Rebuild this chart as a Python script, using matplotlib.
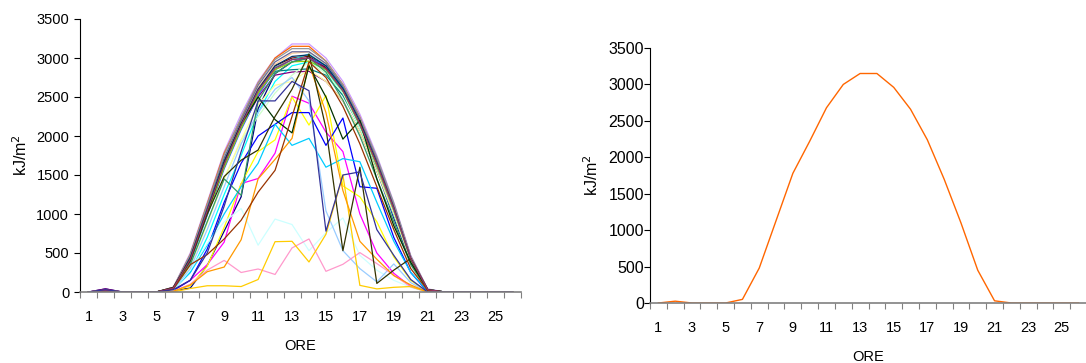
import matplotlib
matplotlib.use("Agg")
import matplotlib.pyplot as plt
from matplotlib.ticker import FixedLocator

plt.rcParams['font.family'] = ['Liberation Sans', 'DejaVu Sans']

# hours of the day (category axis)
hours = list(range(1, 27))
hour_labels = [str(h) if h % 2 == 1 else '' for h in hours]

# hourly radiation, kJ/m2, one list per day of the month
d01 = [0, 40, 0, 0, 0, 20, 50, 340, 780, 1220, 2350, 2800, 2950, 3000, 2870, 2560, 2120, 1560, 950, 380, 20, 0, 0, 0, 0, 0]
d02 = [0, 10, 0, 0, 0, 20, 150, 350, 640, 1390, 1455, 1780, 2510, 2420, 2050, 1800, 1000, 500, 240, 70, 0, 0, 0, 0, 0, 0]
d03 = [0, 10, 0, 0, 0, 10, 80, 330, 830, 1390, 1800, 1950, 2500, 2140, 2520, 1360, 1220, 900, 450, 150, 0, 0, 0, 0, 0, 0]
d04 = [0, 20, 0, 0, 0, 40, 250, 700, 1250, 1750, 2300, 2700, 2900, 2950, 2850, 2550, 2100, 1550, 980, 400, 30, 0, 0, 0, 0, 0]
d05 = [0, 40, 0, 0, 0, 60, 420, 1000, 1600, 2100, 2500, 2780, 2820, 2830, 2700, 2450, 2050, 1550, 1000, 400, 30, 0, 0, 0, 0, 0]
d06 = [0, 20, 0, 0, 0, 50, 430, 1050, 1650, 2150, 2600, 2900, 3000, 3020, 2880, 2600, 2180, 1650, 1080, 430, 30, 0, 0, 0, 0, 0]
d07 = [0, 20, 0, 0, 0, 50, 400, 1000, 1600, 2100, 2550, 2830, 2850, 2860, 2780, 2520, 2120, 1600, 1050, 420, 30, 0, 0, 0, 0, 0]
d08 = [0, 10, 0, 0, 0, 20, 150, 550, 1150, 1650, 2000, 2150, 2300, 2300, 1880, 2230, 1350, 1330, 700, 250, 0, 0, 0, 0, 0, 0]
d09 = [0, 10, 0, 0, 0, 30, 250, 600, 1000, 1350, 1650, 2150, 1880, 1970, 1600, 1710, 1670, 1150, 650, 250, 10, 0, 0, 0, 0, 0]
d10 = [0, 0, 0, 0, 0, 20, 280, 620, 900, 1070, 600, 935, 865, 530, 760, 950, 470, 280, 150, 60, 0, 0, 0, 0, 0, 0]
d11 = [0, 10, 0, 0, 0, 40, 350, 900, 1450, 1950, 2250, 2550, 2780, 2950, 2800, 2550, 2100, 1600, 1050, 420, 30, 0, 0, 0, 0, 0]
d12 = [0, 10, 0, 0, 0, 40, 330, 880, 1450, 1950, 2400, 2650, 2700, 2850, 2700, 2450, 2050, 1550, 1000, 400, 30, 0, 0, 0, 0, 0]
d13 = [0, 10, 0, 0, 0, 30, 300, 800, 1350, 1900, 2300, 2600, 2750, 2450, 1040, 530, 300, 130, 360, 120, 0, 0, 0, 0, 0, 0]
d14 = [0, 0, 0, 0, 0, 10, 100, 280, 405, 250, 295, 225, 565, 680, 265, 355, 505, 365, 215, 65, 0, 0, 0, 0, 0, 0]
d15 = [0, 20, 0, 0, 0, 60, 500, 1150, 1800, 2280, 2700, 3000, 3180, 3180, 3000, 2700, 2280, 1750, 1150, 470, 40, 0, 0, 0, 0, 0]
d16 = [0, 20, 0, 0, 0, 50, 450, 1080, 1700, 2180, 2620, 2920, 3060, 3080, 2920, 2630, 2200, 1680, 1100, 440, 30, 0, 0, 0, 0, 0]
d17 = [0, 10, 0, 0, 0, 40, 380, 980, 1580, 2080, 2520, 2850, 2980, 3000, 2900, 2600, 2150, 1620, 1050, 420, 30, 0, 0, 0, 0, 0]
d18 = [0, 10, 0, 0, 0, 50, 420, 1020, 1620, 2120, 2580, 2880, 2980, 3050, 2900, 2620, 2170, 1640, 1060, 420, 30, 0, 0, 0, 0, 0]
d19 = [0, 10, 0, 0, 0, 40, 400, 1000, 1600, 2100, 2550, 2850, 2950, 2960, 2850, 2580, 2150, 1620, 1060, 420, 30, 0, 0, 0, 0, 0]
d20 = [0, 0, 0, 0, 0, 0, 45, 80, 80, 70, 160, 645, 650, 385, 740, 1500, 85, 40, 60, 70, 0, 0, 0, 0, 0, 0]
d21 = [0, 0, 0, 0, 0, 10, 90, 260, 320, 670, 1450, 1700, 1970, 2920, 2300, 1300, 650, 420, 210, 90, 0, 0, 0, 0, 0, 0]
d22 = [0, 25, 0, 0, 0, 50, 480, 1130, 1780, 2220, 2680, 3000, 3150, 3150, 2960, 2660, 2240, 1700, 1100, 450, 30, 0, 0, 0, 0, 0]
d23 = [0, 20, 0, 0, 0, 50, 460, 1100, 1720, 2200, 2650, 2950, 3080, 3080, 2930, 2640, 2220, 1700, 1120, 450, 30, 0, 0, 0, 0, 0]
d24 = [0, 20, 0, 0, 0, 60, 480, 1120, 1760, 2240, 2680, 2980, 3120, 3120, 2960, 2660, 2240, 1730, 1140, 460, 35, 0, 0, 0, 0, 0]
d25 = [0, 20, 0, 0, 0, 50, 440, 1060, 1680, 2160, 2600, 2900, 3020, 3040, 2900, 2610, 2190, 1660, 1080, 430, 30, 0, 0, 0, 0, 0]
d26 = [0, 10, 0, 0, 0, 40, 350, 900, 1450, 1240, 2450, 2800, 2950, 3000, 2820, 2460, 2000, 1450, 900, 350, 20, 0, 0, 0, 0, 0]
d27 = [0, 10, 0, 0, 0, 50, 420, 1020, 1650, 2150, 2500, 2210, 2040, 2900, 2500, 1960, 2200, 1450, 850, 380, 30, 0, 0, 0, 0, 0]
d28 = [0, 10, 0, 0, 0, 60, 400, 1000, 1480, 1690, 1820, 2250, 2600, 3050, 2100, 530, 1600, 110, 280, 430, 20, 0, 0, 0, 0, 0]
d29 = [0, 10, 0, 0, 0, 40, 350, 480, 680, 920, 1280, 1560, 2250, 2950, 2750, 2380, 1900, 1350, 800, 300, 20, 0, 0, 0, 0, 0]
d30 = [0, 20, 0, 0, 0, 50, 420, 1040, 1640, 2140, 2580, 2870, 2980, 3000, 2860, 2580, 2160, 1640, 1070, 430, 30, 0, 0, 0, 0, 0]
d31 = [0, 30, 0, 0, 0, 30, 150, 500, 1100, 1800, 2450, 2450, 2700, 2580, 780, 1500, 1540, 800, 470, 160, 0, 0, 0, 0, 0, 0]

# clear-sky reference day (right panel)
clear_day = [0, 25, 0, 0, 0, 50, 480, 1130, 1780, 2220, 2680, 3000, 3150, 3150, 2960, 2660, 2240, 1700, 1100, 450, 30, 0, 0, 0, 0, 0]

days = [d01, d02, d03, d04, d05, d06, d07, d08, d09, d10, d11, d12, d13, d14, d15, d16,
        d17, d18, d19, d20, d21, d22, d23, d24, d25, d26, d27, d28, d29, d30, d31]

# old Excel default series colours
colors = ['#000080', '#FF00FF', '#FFFF00', '#00FFFF', '#800080', '#800000', '#008080', '#0000FF',
          '#00CCFF', '#CCFFFF', '#CCFFCC', '#FFFF99', '#99CCFF', '#FF99CC', '#CC99FF', '#FFCC99',
          '#3366FF', '#33CCCC', '#99CC00', '#FFCC00', '#FF9900', '#FF6600', '#666699', '#969696',
          '#003366', '#339966', '#003300', '#333300', '#993300', '#993366', '#333399']

W, H = 1086, 363
fig = plt.figure(figsize=(W / 100, H / 100), dpi=100)
ax1 = fig.add_axes([80 / W, (H - 292) / H, 441 / W, 273 / H])
ax2 = fig.add_axes([650 / W, (H - 303) / H, 437 / W, 255 / H])


def style_axis(ax, ysize, ypad):
    ax.set_xlim(0.5, 26.5)
    ax.set_ylim(0, 3500)
    ax.set_yticks(range(0, 3501, 500))
    ax.set_xticks(hours)
    ax.set_xticklabels(hour_labels)
    ax.xaxis.set_minor_locator(FixedLocator([h + 0.5 for h in range(0, 27)]))
    ax.tick_params(axis='x', which='major', length=0, pad=13.3, labelsize=10.5)
    ax.tick_params(axis='x', which='minor', length=4, color='#808080', width=0.8)
    ax.tick_params(axis='y', length=4, width=0.8, pad=ypad, labelsize=ysize)
    for s in ['top', 'right']:
        ax.spines[s].set_visible(False)
    ax.spines['bottom'].set_color('#808080')
    ax.spines['bottom'].set_linewidth(1.2)
    ax.spines['left'].set_linewidth(0.8)
    ax.set_xlabel('ORE', fontsize=10.5)
    ax.set_ylabel('kJ/m$^2$', fontsize=11.5)
    ax.patch.set_alpha(0)


for vals, c in zip(days, colors):
    ax1.plot(hours, vals, color=c, lw=0.9)
style_axis(ax1, 10.5, 3.8)
ax1.xaxis.set_label_coords(0.5, -0.173)
ax1.yaxis.set_label_coords(-0.114, 0.5)

ax2.plot(hours, clear_day, color='#FF6600', lw=1.0)
style_axis(ax2, 11.5, 0.3)
ax2.xaxis.set_label_coords(0.5, -0.185)
ax2.yaxis.set_label_coords(-0.113, 0.5)

fig.savefig('out.png', dpi=100)
